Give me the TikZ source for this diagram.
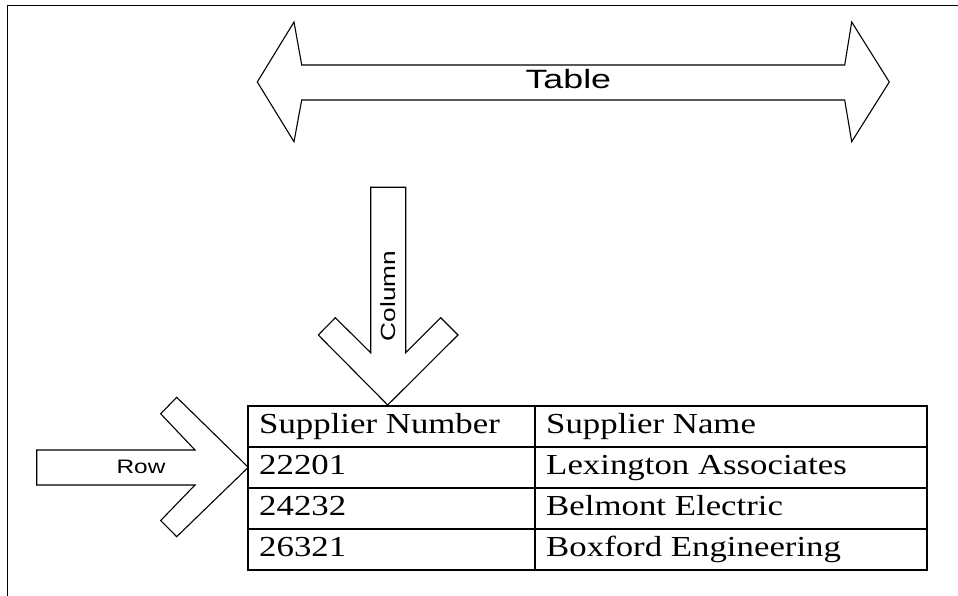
\documentclass[tikz,border=0pt]{standalone}
\usepackage{fontspec}
\newfontfamily\labelfont{Liberation Sans}
\newfontfamily\cellfont{Liberation Serif}
\tikzset{
  blockarrow/.style={draw=black, line width=1.1pt, line join=miter, fill=white},
  grid/.style={draw=black, line width=1.3pt},
  cell/.style={anchor=base west, inner sep=0pt, xscale=1.2,
    font=\cellfont\fontsize{29}{32}\selectfont},
  biglabel/.style={inner sep=0pt, xscale=1.35, font=\labelfont\fontsize{26.5}{30}\selectfont},
  smalllabel/.style={inner sep=0pt, xscale=1.25, font=\labelfont\fontsize{19.5}{24}\selectfont},
}
\begin{document}
\begin{tikzpicture}[x=1pt, y=-1pt]
\useasboundingbox (0,0) rectangle (958,596);
% outer frame (left and top edges)
\draw[line width=1.6pt] (7.3,600) -- (7.3,5.5) -- (962,5.5);

% double-headed arrow spanning the table width
\draw[blockarrow] (257.3,82) -- (294,22) -- (301.7,65) -- (844.7,65) -- (851.7,22)
  -- (889.3,82) -- (851.7,141.7) -- (844.7,100) -- (301.7,100) -- (294,141.7) -- cycle;
\node[biglabel] (tablelabel) at (568.3,79.5) {Table};

% downward arrow pointing at a column
\draw[blockarrow] (370.7,187.3) -- (405.7,187.3) -- (405.7,352.7) -- (440.7,317.7)
  -- (458,335) -- (387.7,405) -- (318.3,335) -- (335.3,317.7) -- (370.7,352.7) -- cycle;
\node[inner sep=0pt, rotate=90, xscale=1.28, font=\labelfont\fontsize{20.5}{24}\selectfont]
  (collabel) at (388,296) {Column};

% right arrow pointing at a row
\draw[blockarrow] (36.7,450) -- (195,450) -- (160.7,413.8) -- (176.7,397.3)
  -- (248.3,467.3) -- (176.7,536.7) -- (160.7,520.5) -- (195,485) -- (36.7,485) -- cycle;
\node[smalllabel] (rowlabel) at (141,467) {Row};

% the table grid
\draw[grid] (248,406) rectangle (927,570);
\foreach \y in {447,488,529} \draw[grid] (248,\y) -- (927,\y);
\draw[grid] (535,406) -- (535,570);

% cell texts
\node[cell] (h1) at (259,433.5) {Supplier Number};
\node[cell] (h2) at (546,433.5) {Supplier Name};
\node[cell] (a1) at (259,474.5) {22201};
\node[cell] (a2) at (546,474.5) {Lexington Associates};
\node[cell] (b1) at (259,515.5) {24232};
\node[cell] (b2) at (546,515.5) {Belmont Electric};
\node[cell] (c1) at (259,556.5) {26321};
\node[cell] (c2) at (546,556.5) {Boxford Engineering};
\end{tikzpicture}
\end{document}
